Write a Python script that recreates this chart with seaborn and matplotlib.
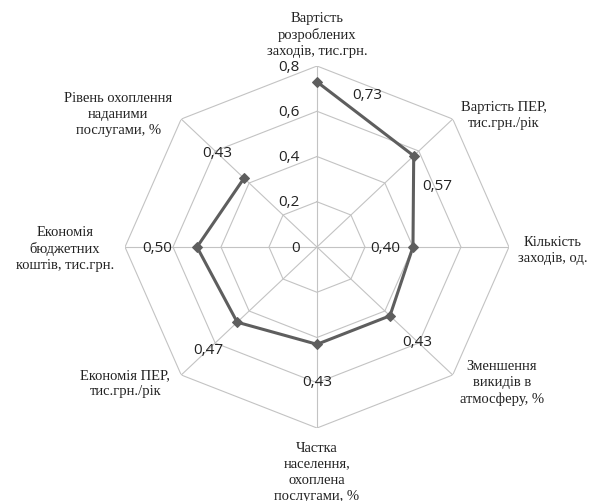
import numpy as np
import pandas as pd
import matplotlib
matplotlib.use("Agg")
import matplotlib.pyplot as plt
import seaborn as sns

# ── Data ─────────────────────────────────────────────────────────────────────
categories = [
    "Вартість\nрозроблених\nзаходів, тис.грн.",
    "Вартість ПЕР,\nтис.грн./рік",
    "Кількість\nзаходів, од.",
    "Зменшення\nвикидів в\nатмосферу, %",
    "Частка\nнаселення,\nохоплена\nпослугами, %",
    "Економія ПЕР,\nтис.грн./рік",
    "Економія\nбюджетних\nкоштів, тис.грн.",
    "Рівень охоплення\nнаданими\nпослугами, %",
]
values = [0.73, 0.57, 0.40, 0.43, 0.43, 0.47, 0.50, 0.43]
value_labels = ["0,73", "0,57", "0,40", "0,43", "0,43", "0,47", "0,50", "0,43"]
ticks = [0, 0.2, 0.4, 0.6, 0.8]
tick_labels = ["0", "0,2", "0,4", "0,6", "0,8"]

# label placement (pixel offsets from the anchor point)
cat_offsets = [(0, 32), (51, 5), (44, -2), (49, -7), (0, -43), (-56, -8), (-60, -1), (-63, 6)]
val_offsets = [(50, -13), (24, -30), (-28, 0), (27, -26), (0, -37), (-29, -27), (-40, 0), (-27, 26)]

GRID_C = "#c3c3c3"
LINE_C = "#5e5e5e"
RMAX = 0.8

sns.set_theme(style="white")
plt.rcParams["font.family"] = ["DejaVu Sans"]

n = len(categories)
theta = np.linspace(0, 2 * np.pi, n, endpoint=False)

fig = plt.figure(figsize=(5.91, 5.02), dpi=100)
ax = fig.add_axes([0.2115, 0.1454, 0.6497, 0.7211], projection="polar")
ax.set_aspect("auto")
ax.set_theta_zero_location("N")
ax.set_theta_direction(-1)
ax.set_ylim(0, RMAX)
ax.grid(False)
ax.spines["polar"].set_visible(False)
ax.set_xticks([])
ax.set_yticks([])
ax.set_facecolor("none")

# octagonal grid
closed_t = np.append(theta, theta[0])
for t in ticks[1:]:
    ax.plot(closed_t, [t] * (n + 1), color=GRID_C, lw=0.8, zorder=1)
for th in theta:
    ax.plot([th, th], [0, RMAX], color=GRID_C, lw=0.8, zorder=1)

# data line
df = pd.DataFrame({"theta": closed_t, "value": values + values[:1]})
sns.lineplot(data=df, x="theta", y="value", sort=False, ax=ax, color=LINE_C,
             lw=2.2, marker="D", markersize=5.5, markeredgecolor=LINE_C, zorder=3)
ax.set_xlabel("")
ax.set_ylabel("")

# radial tick labels
for t, lab in zip(ticks, tick_labels):
    ax.annotate(lab, xy=(0, t), xytext=(-17, 0), textcoords="offset pixels",
                ha="right", va="center", fontsize=11, color="#222222",
                family=["Open Sans", "DejaVu Sans"])

# value labels
for th, v, lab, off in zip(theta, values, value_labels, val_offsets):
    ax.annotate(lab, xy=(th, v), xytext=off, textcoords="offset pixels",
                ha="center", va="center", fontsize=11, color="#222222",
                family=["Open Sans", "DejaVu Sans"])

# category labels
for th, lab, off in zip(theta, categories, cat_offsets):
    ax.annotate(lab, xy=(th, RMAX), xytext=off, textcoords="offset pixels",
                ha="center", va="center", fontsize=10.5, color="#222222",
                family=["Liberation Serif", "DejaVu Serif"], linespacing=1.3,
                annotation_clip=False)

fig.savefig("out.png", dpi=100)
plt.close(fig)
